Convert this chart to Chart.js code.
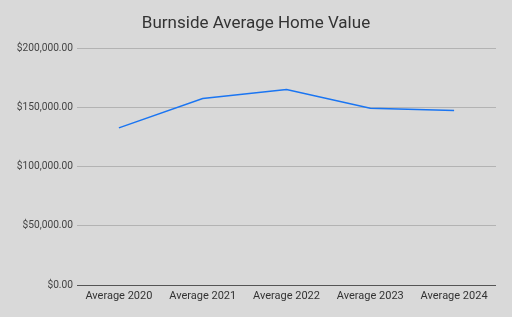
<!DOCTYPE html>
<html>
<head>
<meta charset="utf-8">
<script src="https://cdn.jsdelivr.net/npm/chart.js@4"></script>
<style>
  html, body { margin: 0; padding: 0; background: #d9d9d9; }
  #wrap { width: 512px; height: 317px; }
</style>
</head>
<body>
<div id="wrap"><canvas id="homeChart" width="512" height="317"></canvas></div>
<script>
// values
const years = ['Average 2020', 'Average 2021', 'Average 2022', 'Average 2023', 'Average 2024'];
const homeValues = [132800, 157600, 165200, 149400, 147500];
const yTicks = [0, 50000, 100000, 150000, 200000];

const money = v => '$' + Number(v).toLocaleString('en-US', { minimumFractionDigits: 2, maximumFractionDigits: 2 });

const ctx = document.getElementById('homeChart');
new Chart(ctx, {
  type: 'line',
  data: {
    labels: years,
    datasets: [{
      label: 'Average Home Value',
      data: homeValues,
      borderColor: '#1a75f2',
      borderWidth: 1.5,
      pointRadius: 0,
      tension: 0,
      fill: false
    }]
  },
  options: {
    responsive: false,
    animation: false,
    layout: { padding: { left: 16, right: 16, top: 0, bottom: 10 } },
    plugins: {
      legend: { display: false },
      tooltip: { enabled: false },
      title: {
        display: true,
        text: 'Burnside Average Home Value',
        color: '#333333',
        font: { family: 'Roboto', size: 17, weight: 'normal' },
        padding: { top: 14, bottom: 14 }
      }
    },
    scales: {
      x: {
        offset: true,
        grid: { display: false, drawTicks: false },
        border: { display: false },
        ticks: {
          color: '#333333',
          font: { family: 'Roboto', size: 11 },
          padding: 5,
          maxRotation: 0
        },
        afterFit: scale => { scale.height = 22; }
      },
      y: {
        min: 0,
        max: 200000,
        afterBuildTicks: scale => { scale.ticks = yTicks.map(v => ({ value: v })); },
        grid: {
          drawTicks: false,
          color: c => c.tick && c.tick.value === 0 ? '#555555' : '#b3b3b3',
          lineWidth: 1
        },
        border: { display: false },
        ticks: {
          color: '#444444',
          font: { family: 'Roboto', size: 10.2 },
          padding: 4,
          callback: v => money(v)
        },
        afterFit: scale => { scale.width = 61; }
      }
    }
  }
});
</script>
</body>
</html>
